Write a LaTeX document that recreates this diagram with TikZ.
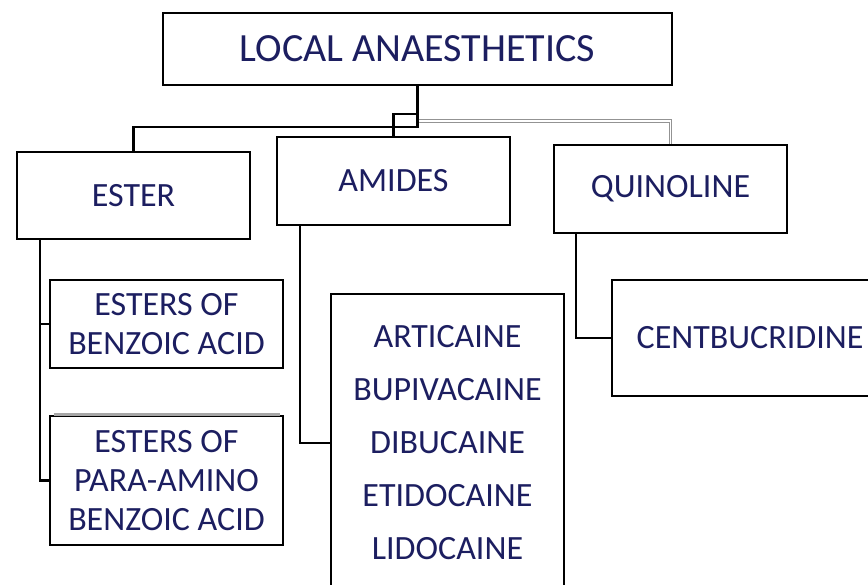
\documentclass[tikz,border=0pt]{standalone}
\usepackage{fontspec}
\setmainfont{Carlito}
\usetikzlibrary{calc}
\definecolor{labelblue}{RGB}{28,30,96}

\begin{document}
\begin{tikzpicture}[x=1pt, y=-1pt,
    box/.style={draw, line width=2.6pt, fill=white, text=labelblue, align=center,
        minimum width=233pt, inner sep=0pt, font=\fontsize{34}{39}\selectfont},
    conn/.style={line width=2.4pt},
    dconn/.style={draw=gray!85, double=white, line width=1pt, double distance=1.6pt}]
            \useasboundingbox (0,0) rectangle (868,585);
            \clip (0,0) rectangle (868,585);

            % Boxes
            \node [box, minimum width=509pt, minimum height=72pt, font=\fontsize{40}{46}\selectfont]
                (title) at (417.5,49) {LOCAL ANAESTHETICS};
            \node [box, minimum height=87pt] (ester) at (133.5,195.5) {ESTER};
            \node [box, minimum height=88pt] (amides) at (393.5,181) {AMIDES};
            \node [box, minimum height=88pt] (quin) at (670.5,189) {QUINOLINE};
            \node [box, minimum height=88pt] (esb) at (166.5,324) {ESTERS OF\\BENZOIC ACID};
            \node [box, minimum height=129pt] (espab) at (166.5,480.5) {ESTERS OF\\PARA-AMINO\\BENZOIC ACID};
            \node [box, minimum height=298pt, font=\fontsize{34}{53}\selectfont] (list) at (447.5,443)
                {ARTICAINE\\BUPIVACAINE\\DIBUCAINE\\ETIDOCAINE\\LIDOCAINE};
            \node [box, minimum width=276pt, minimum height=116pt] (centb) at (750,338) {CENTBUCRIDINE};
            \draw [gray!70, line width=3pt] ([xshift=5pt]espab.north west) -- ([xshift=-4pt]espab.north east);

            % Connectors from the top
            \draw [conn] (title.south) -- ++(0,41) -| (ester.north);
            \draw [conn] ($(title.south)+(0,28)$) -| (amides.north);
            \draw [dconn] ($(title.south)+(1,35)$) -| (quin.north);

            % Connectors to the sub-boxes
            \draw [conn] ([xshift=24pt]ester.south west) |- (esb.west);
            \draw [conn] ([xshift=24pt]ester.south west) |- (espab.west);
            \draw [conn] ([xshift=24pt]amides.south west) |- (list.west);
            \draw [conn] ([xshift=23pt]quin.south west) |- (centb.west);
        \end{tikzpicture}
\end{document}
